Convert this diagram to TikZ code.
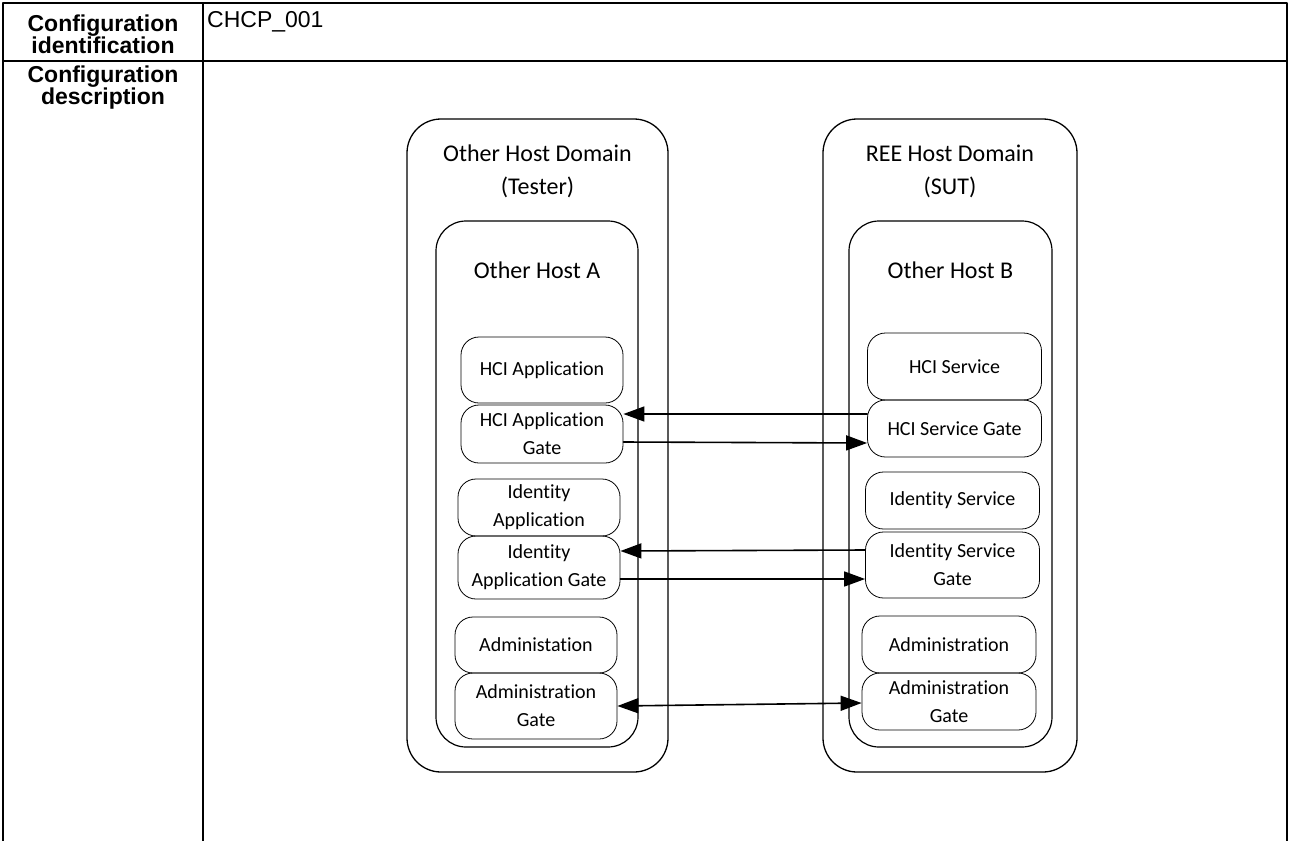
\documentclass[tikz,border=0pt]{standalone}
\usepackage{fontspec}
\setmainfont{Liberation Sans}
\newfontfamily\diagfont[Ligatures={NoCommon,NoRare}]{Carlito}
\usetikzlibrary{arrows.meta}
\begin{document}
\begin{tikzpicture}[x=1pt,y=-1pt,line join=round,line cap=round,
  >={Triangle[length=21pt,width=15pt]},
  tabline/.style={line width=1.6pt},
  domainbox/.style={draw,line width=1.3pt,rounded corners=34pt,inner sep=0pt,minimum height=653pt},
  hostbox/.style={draw,line width=1.2pt,rounded corners=30pt,inner sep=0pt,minimum height=526pt},
  partbox/.style={draw,line width=0.8pt,rounded corners=18pt,inner sep=0pt,align=center,
    font=\diagfont\fontsize{20}{28}\selectfont},
  title/.style={font=\diagfont\fontsize{24}{33}\selectfont,align=center},
  flow/.style={->,line width=1.6pt}]
\useasboundingbox (0,0) rectangle (1291,841);
% table
\draw[tabline] (3,841) -- (3,3) -- (1287,3) -- (1287,841);
\draw[tabline] (3,61) -- (1287,61);
\draw[tabline] (203,3) -- (203,841);
\node[font=\bfseries\fontsize{23}{22}\selectfont,align=center] (cfgid) at (103,34) {Configuration\\identification};
\node[font=\bfseries\fontsize{23}{22}\selectfont,align=center] (cfgdesc) at (103,88) {Configuration\\description};
\node[font=\fontsize{23}{22}\selectfont,anchor=west,inner sep=0pt] (cfgname) at (207,22) {CHCP\_001};
% domains and hosts
\node[domainbox,minimum width=261pt] (domA) at (537.5,445.5) {};
\node[domainbox,minimum width=254pt] (domB) at (950,445.5) {};
\node[hostbox,minimum width=202pt] (hostA) at (537,484) {};
\node[hostbox,minimum width=203pt] (hostB) at (950.5,484) {};
\node[title] (domAtitle) at (537.5,171) {Other Host Domain\\(Tester)};
\node[title] (domBtitle) at (950,171) {REE Host Domain\\(SUT)};
\node[title] (hostAtitle) at (537,270) {Other Host A};
\node[title] (hostBtitle) at (950.5,270) {Other Host B};
% tester side
\foreach \n/\x/\y/\h/\t in {hciapp/542/370/66/{HCI Application},
  hciappgate/542/434/58/{HCI Application\\Gate},
  idapp/539/507.5/57/{Identity\\Application},
  idappgate/539/567.5/63/{Identity\\Application Gate},
  admin/536/645/56/{Administation},
  admingate/536/706/66/{Administration\\Gate}}
  \node[partbox,minimum width=162pt,minimum height=\h pt] (\n) at (\x,\y) {\t};
% SUT side
\foreach \n/\x/\y/\h/\t in {hcisvc/954.5/366.5/67/{HCI Service},
  hcisvcgate/954.5/428.5/57/{HCI Service Gate},
  idsvc/952.5/500.5/57/{Identity Service},
  idsvcgate/952.5/565/66/{Identity Service\\Gate},
  adminsvc/949/644.5/57/{Administration},
  adminsvcgate/949/701.5/57/{Administration\\Gate}}
  \node[partbox,minimum width=174pt,minimum height=\h pt] (\n) at (\x,\y) {\t};
% gate links
\draw[flow] ([yshift=14.5pt]hcisvcgate.west) -- ([yshift=20pt]hciappgate.east);
\draw[flow] ([yshift=-8pt]hciappgate.east) -- ([yshift=-14.5pt]hcisvcgate.west);
\draw[flow] ([yshift=15pt]idsvcgate.west) -- ([yshift=16.5pt]idappgate.east);
\draw[flow] ([yshift=-11.5pt]idappgate.east) -- ([yshift=-14pt]idsvcgate.west);
\draw[flow,<->] (admingate.east) -- ([yshift=-1.5pt]adminsvcgate.west);
\end{tikzpicture}
\end{document}
